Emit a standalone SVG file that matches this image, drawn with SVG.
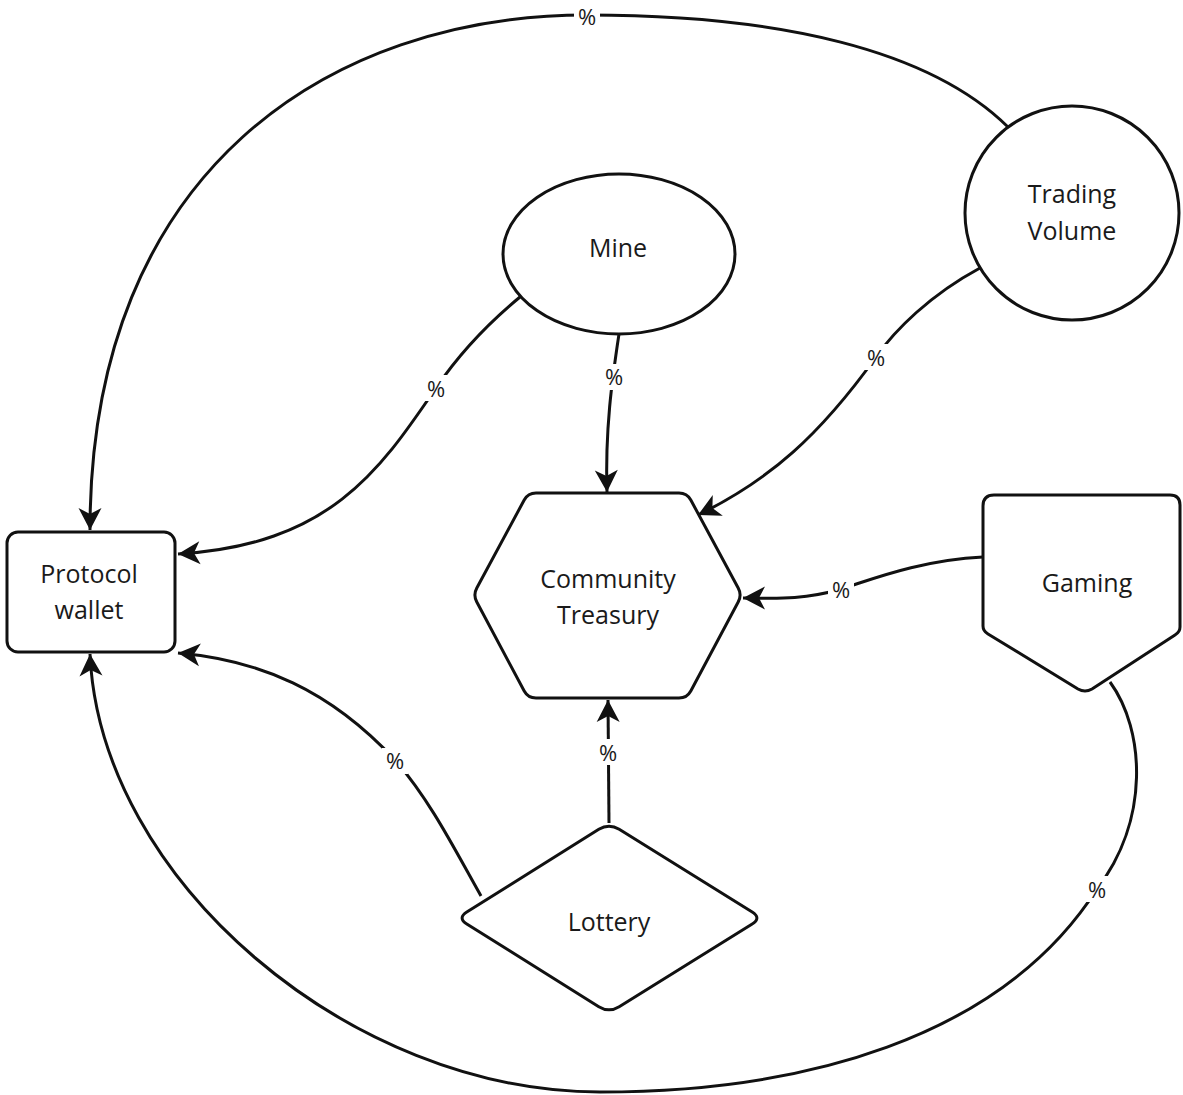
<svg xmlns="http://www.w3.org/2000/svg" width="1183" height="1095" viewBox="0 0 1183 1095">
<style>
.n{fill:#fff;stroke:#111;stroke-width:3;stroke-linejoin:round}
.t{font-family:"Open Sans","Noto Sans",sans-serif;font-size:25px;fill:#1a1a1a;text-anchor:middle}
.e{fill:none;stroke:#111;stroke-width:3;marker-end:url(#arr)}
.e2{fill:none;stroke:#111;stroke-width:3}
.lb{fill:#fff}
.l{font-family:"Open Sans","Noto Sans",sans-serif;font-size:22px;fill:#1a1a1a;text-anchor:middle}
</style>
<defs>
<marker id="arr" markerUnits="userSpaceOnUse" viewBox="-25 -15 30 30" refX="0" refY="0" markerWidth="30" markerHeight="30" orient="auto" overflow="visible">
<path d="M0,0 L-22,-11.5 L-16,0 L-22,11.5 Z" fill="#111"/>
</marker>
</defs>
<rect width="1183" height="1095" fill="#fff"/>
<g id="connectors">
<path class="e" d="M1008,127 C930,50 780,15 587,15 C330,15 90,170 90,530"/>
<path class="e" d="M1110,682 C1145,730 1150,820 1097,889 C1000,1040 800,1092 600,1092 C350,1092 100,880 90,654"/>
<path class="e" d="M520,297 C480,330 455,360 436,388 C380,470 330,545 178,554"/>
<path class="e" d="M619,334 C612,380 605,430 607,492"/>
<path class="e" d="M980,268 C930,295 895,330 876,357 C820,435 770,480 698,515"/>
<path class="e" d="M983,557 C920,560 870,580 841,589 C800,601 770,598 743,598"/>
<path class="e" d="M481,896 C455,850 430,800 395,760 C330,690 260,660 178,653"/>
<path class="e" d="M609,823 L608,700"/>
<g id="labels">
<rect class="lb" x="574" y="3" width="26" height="26"/><text class="l" x="587" y="25">%</text>
<rect class="lb" x="1084" y="876" width="26" height="26"/><text class="l" x="1097" y="898">%</text>
<rect class="lb" x="423" y="375" width="26" height="26"/><text class="l" x="436" y="397">%</text>
<rect class="lb" x="601" y="364" width="26" height="26"/><text class="l" x="614" y="385">%</text>
<rect class="lb" x="863" y="344" width="26" height="26"/><text class="l" x="876" y="366">%</text>
<rect class="lb" x="828" y="576" width="26" height="26"/><text class="l" x="841" y="598">%</text>
<rect class="lb" x="382" y="748" width="26" height="26"/><text class="l" x="395" y="769">%</text>
<rect class="lb" x="595" y="739" width="26" height="26"/><text class="l" x="608" y="761">%</text>
</g>
</g>
<g id="protocol-wallet">
<rect class="n" x="7" y="532" width="168" height="120" rx="11"/>
<text class="t" x="89" y="583">Protocol</text>
<text class="t" x="89" y="619">wallet</text>
</g>
<g id="community-treasury">
<path class="n" d="M536,493 L679,493 Q687,493 690.8,500 L738.2,588 Q742,595 738.2,602 L690.8,691 Q687,698 679,698 L536,698 Q528,698 524.2,691 L476.8,602 Q473,595 476.8,588 L524.2,500 Q528,493 536,493 Z"/>
<text class="t" x="608" y="588">Community</text>
<text class="t" x="608" y="624">Treasury</text>
</g>
<g id="gaming">
<path class="n" d="M994,495 L1170,495 Q1180,495 1180,505 L1180,627 Q1180,632 1175,635 L1092,689 Q1085,693 1078,689 L988,634 Q983,631 983,626 L983,506 Q983,495 994,495 Z"/>
<text class="t" x="1087" y="592">Gaming</text>
</g>
<g id="lottery">
<path class="n" d="M598.8,829.3 Q609,823 619.2,829.3 L751.8,911.7 Q762,918 751.8,924.3 L619.2,1006.7 Q609,1013 598.8,1006.7 L467.2,924.3 Q457,918 467.2,911.7 Z"/>
<text class="t" x="609" y="931">Lottery</text>
</g>
<g id="trading-volume">
<circle class="n" cx="1072" cy="213" r="107"/>
<text class="t" x="1072" y="203">Trading</text>
<text class="t" x="1072" y="240">Volume</text>
</g>
<g id="mine">
<ellipse class="n" cx="619" cy="254" rx="116" ry="80"/>
<text class="t" x="618" y="257">Mine</text>
</g>
</svg>
